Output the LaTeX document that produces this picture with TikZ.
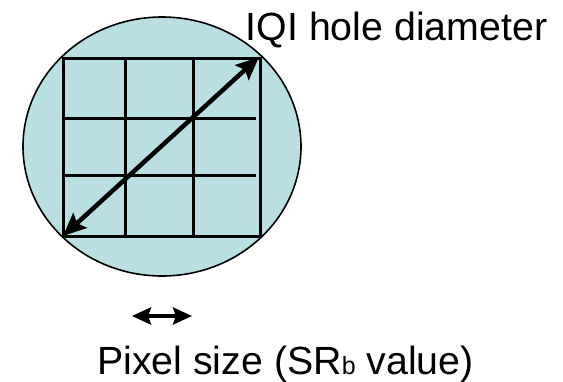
\documentclass[tikz,border=0pt]{standalone}
\usepackage{fontspec}
\setmainfont{Liberation Sans}
\usetikzlibrary{arrows.meta,shapes.geometric}
\definecolor{holefill}{HTML}{B9DFE3}
\begin{document}
\begin{tikzpicture}[x=1pt,y=-1pt,
  gridline/.style={line width=3pt},
  bigarrow/.style={line width=4.5pt,{Stealth[length=23pt,width=20pt,inset=4pt]}-{Stealth[length=23pt,width=20pt,inset=4pt]}},
  smallarrow/.style={line width=4.5pt,{Stealth[length=19pt,width=17pt,inset=3pt]}-{Stealth[length=19pt,width=17pt,inset=3pt]}},
  txt/.style={inner sep=0pt, font=\fontsize{39.3}{41}\selectfont, anchor=base west}]
\useasboundingbox (0,0) rectangle (563,381);
\node[ellipse, draw, line width=1.6pt, fill=holefill, minimum width=278pt, minimum height=259pt, inner sep=0pt] (hole) at (162,146.5) {};
% grid
\draw[gridline] (63,58) rectangle (260,236);
\draw[gridline] (125,58) -- (125,236);
\draw[gridline] (193,58) -- (193,236);
\draw[gridline] (62,118) -- (256,118);
\draw[gridline] (62,175) -- (256,175);
% diameter arrow
\coordinate (dl) at (63,236);
\coordinate (dr) at (259,57);
\draw[bigarrow] (dl) -- (dr);
% pixel size arrow
\coordinate (pl) at (132,316);
\coordinate (pr) at (192,316);
\draw[smallarrow] (pl) -- (pr);
% labels
\node[txt] (hd) at (245.5,40) {IQI hole diameter};
\node[txt] (ps) at (97,374) {Pixel size (SR{\fontsize{25}{25}\selectfont b} value)};
\end{tikzpicture}
\end{document}
